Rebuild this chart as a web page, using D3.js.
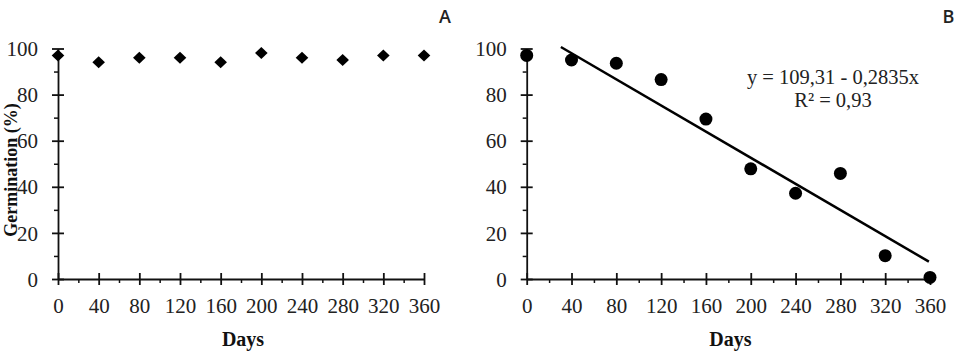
<!DOCTYPE html>
<html><head><meta charset="utf-8">
<script src="https://cdn.jsdelivr.net/npm/d3@7"></script>
<style>
html,body{margin:0;padding:0;background:#fff;}
svg{display:block;}
</style></head>
<body>
<svg id="c" width="963" height="354"></svg>
<script>
const days = [0, 40, 80, 120, 160, 200, 240, 280, 320, 360];
const germA = [97, 94, 96, 96, 94, 98, 96, 95, 97, 97];
const germB = [97, 95, 93.6, 86.5, 69.4, 47.8, 37.2, 45.8, 10.1, 0.7];
const xTicks = [0, 40, 80, 120, 160, 200, 240, 280, 320, 360];
const yTicks = [0, 20, 40, 60, 80, 100];
const regIntercept = 109.31, regSlope = -0.2835;
const regRange = [30.5, 359];
const eqLine1 = "y = 109,31 - 0,2835x";
const eqLine2 = "R² = 0,93";
const panelLabels = ["A", "B"];
const xTitle = "Days";
const yTitle = "Germination (%)";

const svg = d3.select("#c");
const serif = "'Liberation Serif','Times New Roman',serif";

function panel(x0, x1, label, labelX) {
  const x = d3.scaleLinear().domain([0, 360]).range([x0, x1]);
  const y = d3.scaleLinear().domain([0, 100]).range([279, 48.5]);
  const g = svg.append("g");

  const minorX = d3.range(20, 360, 40);
  const minorY = d3.range(10, 100, 20);
  g.append("g").attr("transform", `translate(0,${y(0)})`)
    .call(d3.axisBottom(x).tickValues(minorX).tickSize(4).tickFormat(""))
    .call(s => s.select(".domain").remove())
    .selectAll("line").attr("stroke", "#111").attr("stroke-width", 1.5);
  g.append("g").attr("transform", `translate(${x(0)},0)`)
    .call(d3.axisLeft(y).tickValues(minorY).tickSize(4).tickFormat(""))
    .call(s => s.select(".domain").remove())
    .selectAll("line").attr("stroke", "#111").attr("stroke-width", 1.5);

  const ax = g.append("g").attr("transform", `translate(0,${y(0)})`)
    .call(d3.axisBottom(x).tickValues(xTicks).tickSize(6).tickPadding(13).tickSizeOuter(0));
  ax.selectAll(".tick line").attr("y1", -6).attr("y2", 6);
  const ay = g.append("g").attr("transform", `translate(${x(0)},0)`)
    .call(d3.axisLeft(y).tickValues(yTicks).tickSize(6).tickPadding(14).tickSizeOuter(0));
  ay.selectAll(".tick line").attr("x1", -6).attr("x2", 6);
  [ax, ay].forEach(a => {
    a.select(".domain").attr("stroke", "#111").attr("stroke-width", 1.8);
    a.selectAll(".tick line").attr("stroke", "#111").attr("stroke-width", 1.8);
    a.selectAll("text").attr("font-family", serif).attr("font-size", 21).attr("fill", "#222");
  });
  ax.selectAll("text").attr("dy", "0.71em");
  ay.selectAll("text").attr("dy", "0.34em");

  g.append("text").attr("x", (x0 + x1) / 2 + 2).attr("y", 346)
    .attr("text-anchor", "middle").attr("font-family", serif)
    .attr("font-weight", "bold").attr("font-size", 20).attr("fill", "#111").text(xTitle);

  g.append("text").attr("x", labelX).attr("y", 23)
    .attr("text-anchor", "middle").attr("font-family", "'Open Sans','Liberation Sans',sans-serif")
    .attr("font-weight", 600).attr("font-size", 18).attr("fill", "#222").text(label);

  return {g, x, y};
}

// Panel A
const A = panel(58, 424, panelLabels[0], 445);
A.g.selectAll("path.pt").data(days).join("path")
  .attr("class", "pt")
  .attr("transform", (d, i) => `translate(${A.x(d)},${A.y(germA[i])})`)
  .attr("d", "M0,-6L6.3,0L0,6L-6.3,0Z").attr("fill", "#000");

svg.append("text")
  .attr("transform", `translate(17,170) rotate(-90)`)
  .attr("text-anchor", "middle").attr("font-family", serif)
  .attr("font-weight", "bold").attr("font-size", 18).attr("fill", "#111").text(yTitle);

// Panel B
const B = panel(526.7, 930, panelLabels[1], 948.5);
B.g.append("line")
  .attr("x1", B.x(regRange[0])).attr("y1", B.y(regIntercept + regSlope * regRange[0]))
  .attr("x2", B.x(regRange[1])).attr("y2", B.y(regIntercept + regSlope * regRange[1]))
  .attr("stroke", "#000").attr("stroke-width", 2.5);
B.g.selectAll("circle.pt").data(days).join("circle")
  .attr("class", "pt")
  .attr("cx", d => B.x(d)).attr("cy", (d, i) => B.y(germB[i]))
  .attr("r", 6.5).attr("fill", "#000");

B.g.append("text").attr("x", 833).attr("y", 84).attr("text-anchor", "middle")
  .attr("font-family", serif).attr("font-size", 20.5).attr("fill", "#222").text(eqLine1);
B.g.append("text").attr("x", 833).attr("y", 107).attr("text-anchor", "middle")
  .attr("font-family", serif).attr("font-size", 20.5).attr("fill", "#222").text(eqLine2);
</script>
</body></html>
